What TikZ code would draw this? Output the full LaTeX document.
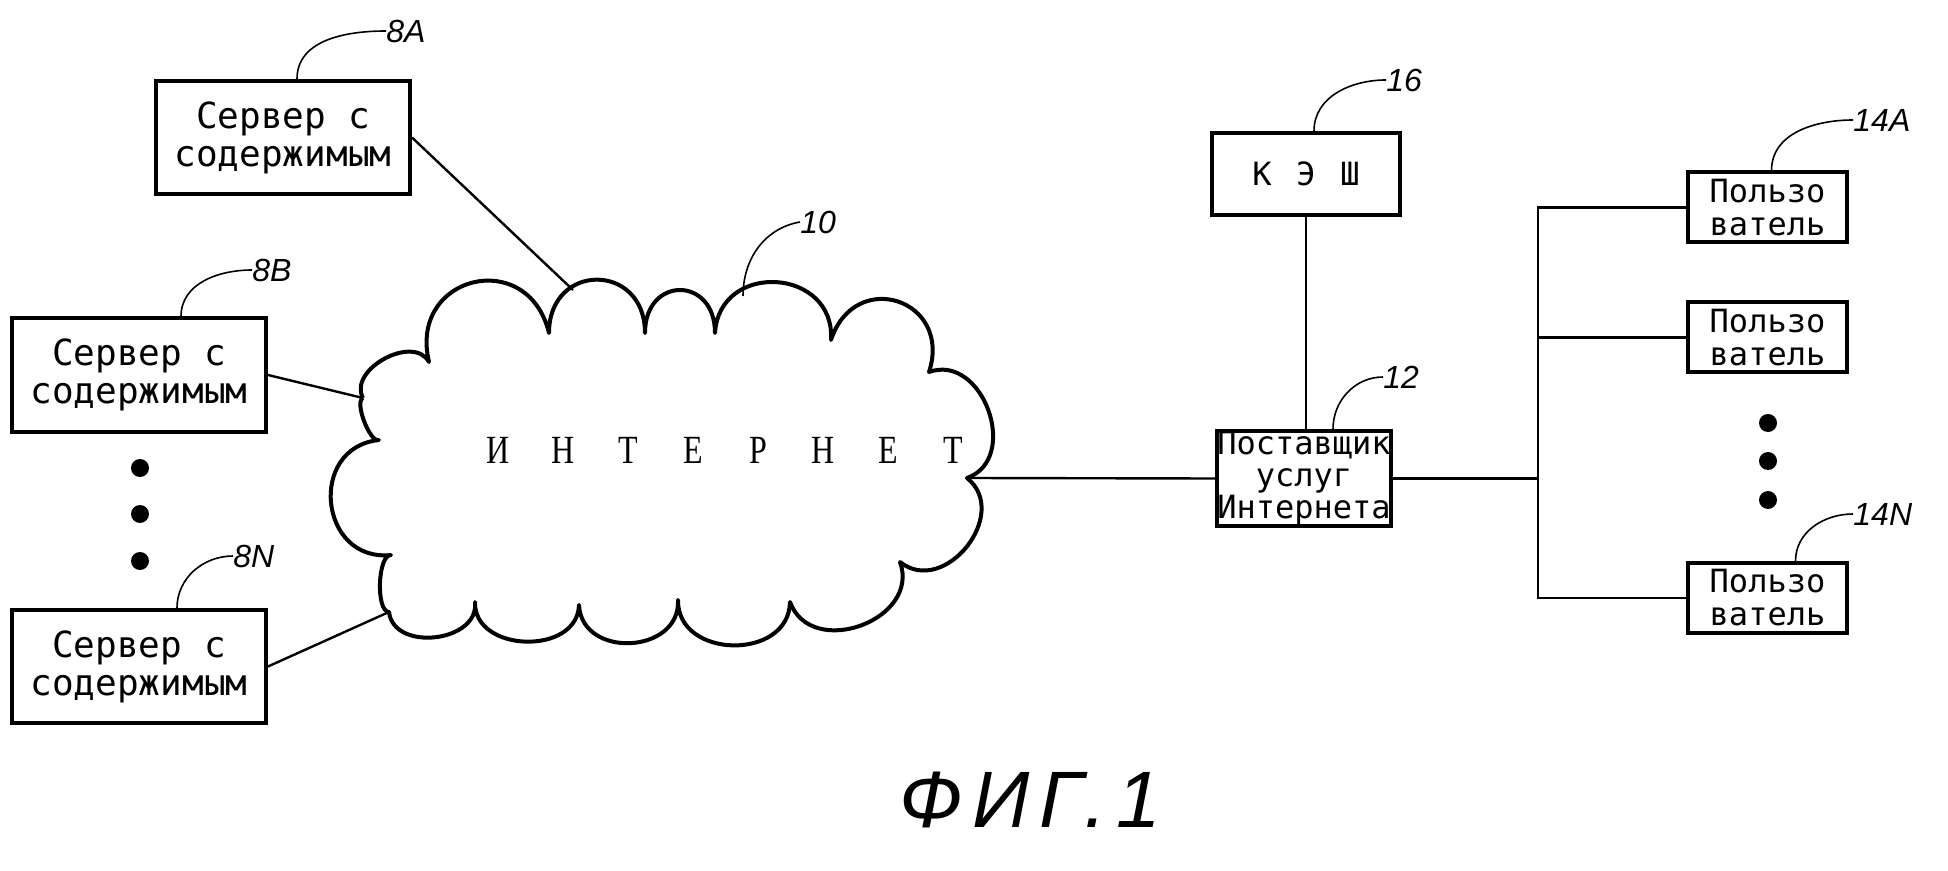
\documentclass[tikz,border=0pt]{standalone}
\usepackage{fontspec}
\newfontfamily\boxfont{DejaVu Sans Mono}
\newfontfamily\netfont[FakeStretch=0.8]{Liberation Serif}
\newfontfamily\reffont{Liberation Sans}
\begin{document}
\begin{tikzpicture}[x=0.5pt,y=-0.5pt,
  unitbox/.style={draw, line width=2pt, inner sep=0pt, align=center},
  serverbox/.style={unitbox, minimum width=127pt, minimum height=56.5pt, font=\boxfont\fontsize{18}{19}\selectfont},
  userbox/.style={unitbox, minimum width=79.5pt, minimum height=35pt, font=\boxfont\fontsize{16}{16.5}\selectfont},
  link/.style={line width=1.2pt},
  leader/.style={line width=0.8pt},
  reflabel/.style={font=\reffont\itshape\fontsize{16}{16}\selectfont, inner sep=0pt, anchor=west},
  puff/.style={bend left=90, looseness=#1}]
\useasboundingbox (0,0) rectangle (1948,871);

% content servers
\node[serverbox] (s8a) at (283,137.5) {Сервер с\\содержимым};
\node[serverbox] (s8b) at (139,375) {Сервер с\\содержимым};
\node[serverbox] (s8n) at (139,666.5) {Сервер с\\содержимым};
\fill (140,468) circle[radius=4.5pt] (140,514) circle[radius=4.5pt] (140,561) circle[radius=4.5pt];

% internet cloud
\draw[line width=2pt, line join=round] (363,398) to[puff=1.1] (429,362) to[puff=1.85] (549,333)
  to[puff=1.9] (645,333) to[puff=2.1] (715,333) to[puff=1.6] (831,340) to[puff=1.9] (929,372)
  to[puff=1.3] (967,478) to[puff=1.35] (900,562) to[puff=1.35] (790,602) to[puff=1.35] (678,600)
  to[puff=1.4] (579,605) to[puff=1.25] (475,602) to[puff=1.2] (389,612) to[puff=0.6] (391,555)
  to[puff=1.6] (379,440) to[puff=0.55] (363,398);
\node[font=\netfont\fontsize{20}{20}\selectfont] (inet) at (726,450)
  {\foreach \c in {И,Н,Т,Е,Р,Н,Е,Т}{\makebox[32.5pt]{\c}}};
\coordinate (net8a) at (573,290);
\coordinate (net8b) at (363,398);
\coordinate (net8n) at (389,612);
\coordinate (net12) at (967,478);
\coordinate (net10) at (743,296);

% provider, cache and users
\node[unitbox, minimum width=94pt, minimum height=41pt, font=\boxfont\fontsize{16}{16}\selectfont] (cache) at (1306,174)
  {\makebox[22pt]{К}\makebox[22pt]{Э}\makebox[22pt]{Ш}};
\node[unitbox, minimum width=85pt, minimum height=47.5pt, font=\boxfont\fontsize{16}{16}\selectfont] (isp) at (1304,478.5)
  {Поставщик\\услуг\\Интернета};
\node[userbox] (ua) at (1767.5,207.5) {Пользо\\ватель};
\node[userbox] (ub) at (1767.5,337.5) {Пользо\\ватель};
\node[userbox] (un) at (1767.5,598) {Пользо\\ватель};
\fill (1768,423) circle[radius=4.5pt] (1768,461) circle[radius=4.5pt] (1768,500) circle[radius=4.5pt];
\coordinate (bus) at (1538,0);

\draw[link] (s8a.east) -- (net8a);
\draw[link] (s8b.east) -- (net8b);
\draw[link] (s8n.east) -- (net8n);
\draw[link] (net12) -- (isp.west);
\draw[link] (cache.south) -- (isp.north -| cache.south);
\draw[link] (isp.east) -- (isp.east -| bus);
\draw[link] (ua.west) -- (ua.west -| bus) -- (un.west -| bus) -- (un.west);
\draw[link] (ub.west) -- (ub.west -| bus);

% reference numerals
\node[reflabel] (l8a) at (386,31) {8A};
\node[reflabel] (l8b) at (252,270) {8B};
\node[reflabel] (l8n) at (233,556) {8N};
\node[reflabel] (l10) at (800,222) {10};
\node[reflabel] (l16) at (1386,80) {16};
\node[reflabel] (l12) at (1383,377) {12};
\node[reflabel] (l14a) at (1853,120) {14A};
\node[reflabel] (l14n) at (1853,514) {14N};
\draw[leader] ([xshift=7pt]s8a.north) to[out=90,in=180] (l8a.west);
\draw[leader] ([xshift=21pt]s8b.north) to[out=90,in=180] (l8b.west);
\draw[leader] ([xshift=19pt]s8n.north) to[out=90,in=180] (l8n.west);
\draw[leader] (net10) to[out=90,in=190] (l10.west);
\draw[leader] ([xshift=4pt]cache.north) to[out=90,in=180] (l16.west);
\draw[leader] ([xshift=14.5pt]isp.north) to[out=90,in=180] (l12.west);
\draw[leader] ([xshift=2pt]ua.north) to[out=90,in=180] (l14a.west);
\draw[leader] ([xshift=14pt]un.north) to[out=90,in=180] (l14n.west);

\node[font=\reffont\itshape\fontsize{40}{40}\selectfont\addfontfeatures{LetterSpace=12}] (fig) at (1030,800) {ФИГ.1};
\end{tikzpicture}
\end{document}
